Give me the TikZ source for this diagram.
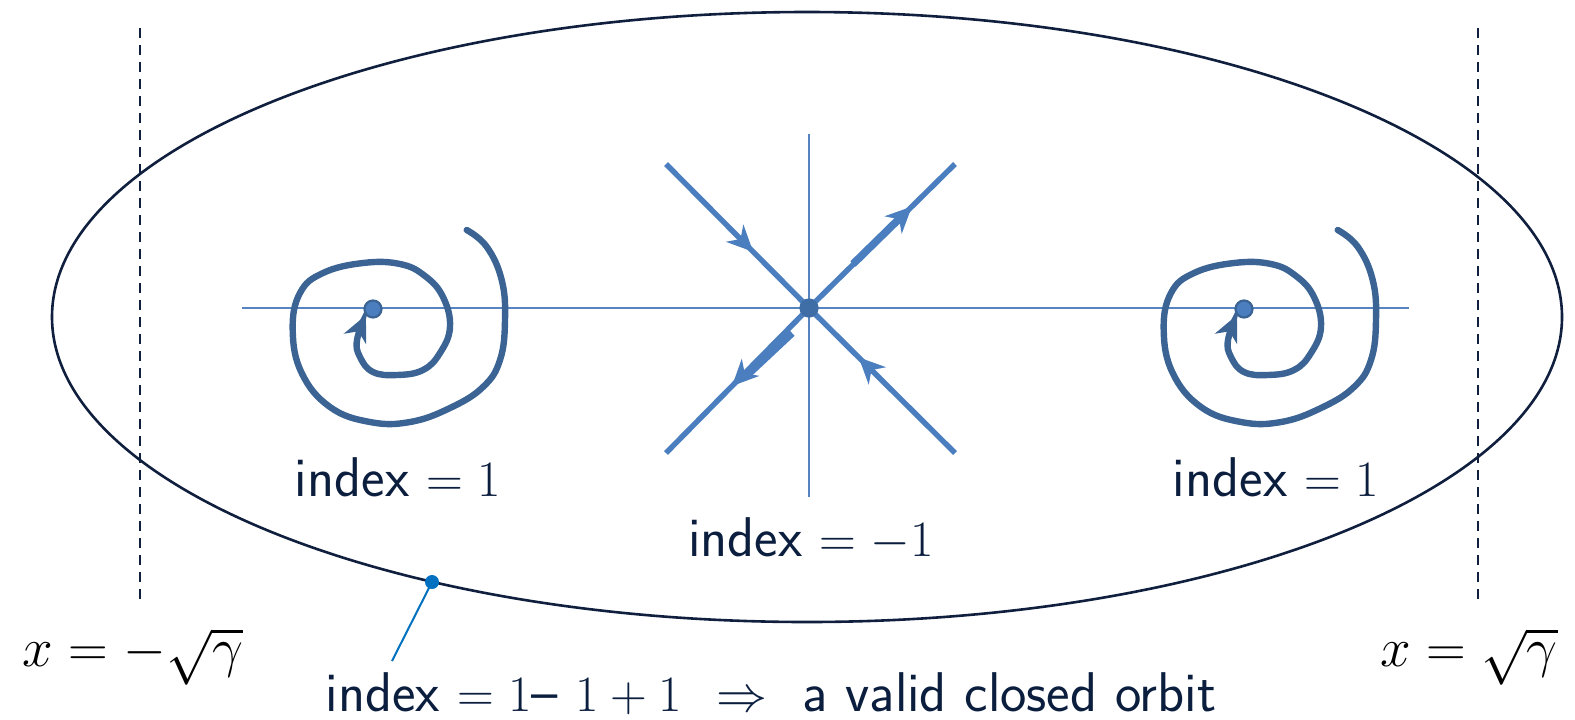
\RequirePackage{fix-cm}
\documentclass[tikz,border=0pt]{standalone}
\usepackage{fontspec}
\usetikzlibrary{arrows.meta,decorations.markings}
\definecolor{navy}{HTML}{0B1E3E}
\definecolor{orbitcol}{HTML}{0F1F3D}
\definecolor{axiscol}{HTML}{5584C0}
\definecolor{diagcol}{HTML}{4A7EBE}
\definecolor{spiralcol}{HTML}{3B6494}
\definecolor{dotfill}{HTML}{4A7EBE}
\definecolor{saddlefill}{HTML}{3F6EA6}
\definecolor{leadcol}{HTML}{0070C0}
\newcommand\mpart[1]{{\fontsize{25.5}{30}\selectfont$#1$}}
\begin{document}
\begin{tikzpicture}[x=0.5pt,y=-0.5pt,
  axisline/.style={draw=axiscol,line width=0.8pt},
  diagline/.style={draw=diagcol,line width=2.7pt},
  boundline/.style={draw=orbitcol,line width=1.2pt,dash pattern=on 5pt off 3.5pt},
  spiralline/.style={draw=spiralcol,line width=3.2pt,line cap=round,
     -{Stealth[length=13pt,width=12pt,inset=4pt]}},
  spiraldot/.style={circle,fill=dotfill,draw=spiralcol,line width=1.1pt,minimum size=8.5pt,inner sep=0pt},
  saddledot/.style={circle,fill=saddlefill,minimum size=9.5pt,inner sep=0pt},
  idxlabel/.style={text=navy,font=\sffamily\fontsize{28}{34}\selectfont,anchor=base,inner sep=0pt},
  mathlabel/.style={text=black,font=\fontsize{27.5}{33}\selectfont,anchor=base,inner sep=0pt},
  flowmark/.style={postaction={decorate},decoration={markings,
     mark=at position #1 with {\arrow[diagcol]{Stealth[length=13pt,width=12pt,inset=4pt]}}}}
]
\useasboundingbox (0,0) rectangle (1575,719);

% closed orbit
\draw[draw=orbitcol,line width=1.3pt] (807,317) ellipse [x radius=755, y radius=305];

% boundaries x = +- sqrt(gamma)
\coordinate (bLt) at (140,28); \coordinate (bLb) at (140,603);
\coordinate (bRt) at (1478,28); \coordinate (bRb) at (1478,603);
\draw[boundline] (bLt) -- (bLb);
\draw[boundline] (bRt) -- (bRb);

% axes
\coordinate (axL) at (242,308); \coordinate (axR) at (1409,308);
\coordinate (axT) at (809,134); \coordinate (axB) at (809,497);
\draw[axisline] (axL) -- (axR);
\draw[axisline] (axT) -- (axB);

% saddle
\coordinate (TL) at (666,164); \coordinate (TR) at (955,164);
\coordinate (BL) at (666,453); \coordinate (BR) at (955,453);
\node[saddledot] (S) at (809,308) {};
\draw[diagline,flowmark=0.61] (TL) -- (S.center);
\draw[diagline,flowmark=0.705] (S.center) -- (TR);
\draw[diagline,flowmark=0.54] (S.center) -- (BL);
\draw[diagline,flowmark=0.66] (BR) -- (S.center);
\coordinate (trA) at (853,264); \coordinate (trB) at (900,218);
\coordinate (blA) at (792,333); \coordinate (blB) at (745,377);
\draw[draw=diagcol,line width=3.8pt] (trA) -- (trB);
\draw[draw=diagcol,line width=3.8pt] (blA) -- (blB);
\node[saddledot] at (S) {};

% spirals
\foreach \cx/\nm in {373/L,1244/R}{
\begin{scope}[shift={(\cx,309)}]
\draw[spiralline] plot[smooth,tension=0.7] coordinates {
 (93.7,-79) (113.7,-62.3) (128.7,-29) (132,11) (127,51) (110,78) (77,99)
 (37,113) (-3,113) (-43,98) (-71.3,64) (-80.3,21) (-73,-16) (-50,-36)
 (-10,-46) (27,-45) (52,-33) (70,-12) (77,18) (67,44) (50,61) (24,66)
 (0,63) (-13,48) (-16,31) (-7,6)};
\node[spiraldot] (dot\nm) at (0,0) {};
\end{scope}
}

% index labels
\node[idxlabel] (iL) at (398,496) {index \mpart{=1}};
\node[idxlabel] (iS) at (811,556) {index \mpart{=-1}};
\node[idxlabel] (iR) at (1276,496) {index \mpart{=1}};

% boundary labels
\node[mathlabel] (xL) at (133,666) {$x=-\sqrt{\gamma}$};
\node[mathlabel] (xR) at (1469,666) {$x=\sqrt{\gamma}$};

% leader to orbit
\coordinate (lead) at (432,582);
\coordinate (leadEnd) at (392,661);
\draw[draw=leadcol,line width=1pt] (lead) -- (leadEnd);
\fill[leadcol] (lead) circle [radius=7];
\node[idxlabel] (iT) at (771,711) {index \mpart{=1}-- \mpart{1+1}\ \ \mpart{\Rightarrow}\ \ a valid closed orbit};
\end{tikzpicture}
\end{document}
